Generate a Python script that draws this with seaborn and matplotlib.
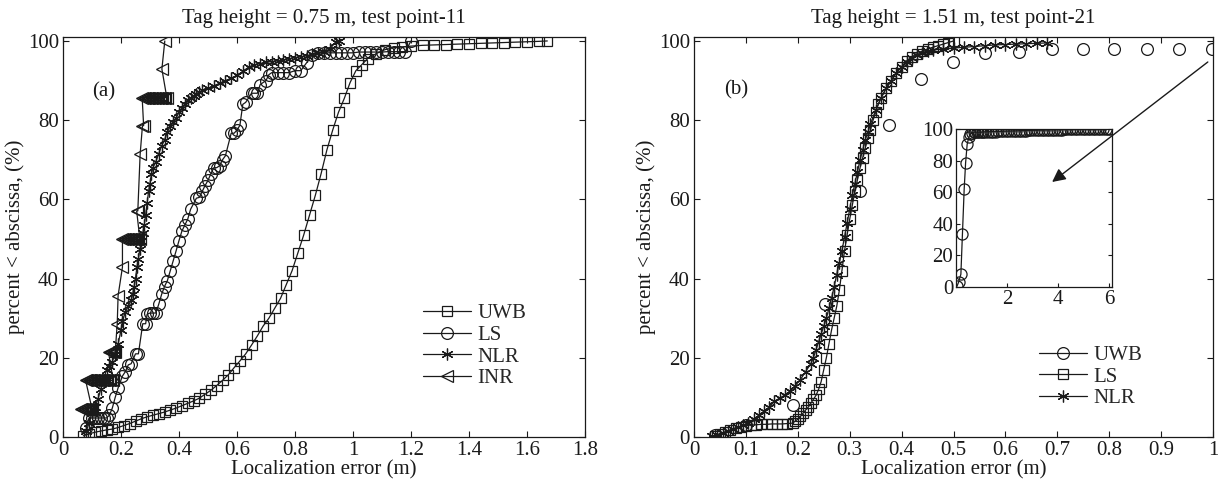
import matplotlib
matplotlib.use("Agg")
import matplotlib.pyplot as plt
import seaborn as sns
from matplotlib.lines import Line2D
from matplotlib.patches import FancyArrowPatch

# ---------------- data: panel (a) ----------------
uwb_a_x = [0.07, 0.09, 0.11, 0.13, 0.15, 0.17, 0.19, 0.21, 0.23, 0.25,
           0.27, 0.29, 0.31, 0.33, 0.35, 0.37, 0.39, 0.41, 0.43, 0.45,
           0.47, 0.49, 0.51, 0.53, 0.55, 0.57, 0.59, 0.61, 0.63, 0.65,
           0.67, 0.69, 0.71, 0.73, 0.75, 0.77, 0.79, 0.81, 0.83, 0.85,
           0.87, 0.89, 0.91, 0.93, 0.95, 0.97, 0.99, 1.01, 1.03, 1.05,
           1.08, 1.11, 1.14, 1.17, 1.20, 1.24, 1.28, 1.32, 1.36, 1.40,
           1.44, 1.48, 1.52, 1.56, 1.60, 1.64, 1.67]
uwb_a_y = [0.3, 0.8, 1.2, 1.5, 1.8, 2.0, 2.4, 2.9, 3.4, 4.0,
           4.6, 5.1, 5.5, 5.9, 6.3, 6.8, 7.3, 7.9, 8.5, 9.1,
           9.8, 10.8, 11.8, 13.0, 14.3, 15.7, 17.5, 19.2, 21.0, 23.2,
           25.5, 28.0, 30.0, 32.5, 35.0, 38.5, 42.0, 46.5, 51.0, 56.0,
           61.0, 66.5, 72.5, 77.5, 82.0, 85.5, 89.5, 92.5, 94.0, 95.5,
           96.8, 97.8, 98.3, 98.5, 98.7, 98.9, 99.0, 99.1, 99.2, 99.3,
           99.4, 99.5, 99.6, 99.7, 99.8, 99.9, 100.0]

ls_a_x = [0.08, 0.09, 0.10, 0.11, 0.12, 0.13, 0.14, 0.15, 0.16, 0.17,
          0.18, 0.19, 0.205, 0.215, 0.225, 0.235, 0.25, 0.26, 0.275, 0.285,
          0.29, 0.30, 0.31, 0.32, 0.33, 0.34, 0.35, 0.36, 0.37, 0.38,
          0.39, 0.40, 0.41, 0.42, 0.43, 0.44, 0.46, 0.47, 0.48, 0.49,
          0.50, 0.51, 0.52, 0.53, 0.54, 0.55, 0.56, 0.58, 0.59, 0.60,
          0.61, 0.62, 0.63, 0.65, 0.66, 0.67, 0.68, 0.70, 0.71, 0.72,
          0.74, 0.76, 0.78, 0.80, 0.82, 0.84, 0.86, 0.88, 0.90, 0.92,
          0.94, 0.96, 0.98, 1.00, 1.02, 1.04, 1.06, 1.08, 1.10, 1.12,
          1.14, 1.16, 1.18, 1.20]
ls_a_y = [2.3, 4.8, 4.8, 4.8, 4.8, 4.8, 4.8, 4.8, 5.5, 7.3,
          10.0, 12.4, 15.4, 16.5, 18.2, 18.5, 21.0, 21.0, 28.6, 28.6,
          31.0, 31.3, 31.3, 31.3, 33.5, 36.0, 38.0, 39.5, 42.0, 44.5,
          47.0, 49.6, 52.0, 53.5, 55.0, 57.5, 60.3, 60.5, 62.0, 63.5,
          64.8, 66.5, 68.0, 68.0, 68.5, 70.0, 71.0, 76.7, 76.7, 77.5,
          78.7, 84.0, 84.5, 86.8, 86.8, 86.8, 89.0, 90.0, 91.5, 92.0,
          92.0, 92.0, 92.0, 92.5, 92.5, 94.5, 96.5, 97.0, 97.0, 97.0,
          97.0, 97.0, 97.0, 97.0, 97.2, 97.2, 97.2, 97.2, 97.2, 97.3,
          97.3, 97.3, 97.3, 100.0]

nlr_a_x = [0.08, 0.09, 0.10, 0.11, 0.12, 0.13, 0.14, 0.15, 0.16, 0.17,
           0.18, 0.19, 0.20, 0.205, 0.215, 0.225, 0.235, 0.24, 0.245, 0.25,
           0.255, 0.26, 0.265, 0.27, 0.275, 0.28, 0.285, 0.29, 0.295, 0.30,
           0.305, 0.31, 0.32, 0.33, 0.34, 0.35, 0.36, 0.37, 0.38, 0.39,
           0.40, 0.41, 0.42, 0.43, 0.44, 0.45, 0.46, 0.47, 0.48, 0.50,
           0.52, 0.54, 0.56, 0.58, 0.60, 0.62, 0.64, 0.66, 0.68, 0.70,
           0.72, 0.74, 0.76, 0.78, 0.80, 0.82, 0.84, 0.86, 0.88, 0.90,
           0.92, 0.94, 0.95]
nlr_a_y = [1.5, 3.5, 6.0, 7.5, 9.5, 12.0, 14.5, 17.0, 18.0, 19.0,
           21.0, 23.5, 27.0, 29.4, 31.5, 33.0, 34.5, 36.0, 38.0, 40.0,
           43.0, 45.0, 47.5, 49.5, 51.5, 53.5, 56.0, 59.0, 62.0, 64.0,
           66.5, 68.0, 69.5, 71.5, 73.5, 75.0, 77.0, 78.5, 79.5, 80.5,
           82.0, 83.0, 84.0, 85.0, 85.5, 86.0, 86.5, 87.0, 87.5, 88.0,
           88.7, 89.3, 90.0, 90.6, 91.3, 92.3, 93.4, 94.0, 94.3, 94.6,
           94.8, 95.0, 95.2, 95.5, 95.8, 96.0, 96.3, 96.6, 96.9, 97.2,
           98.0, 99.7, 100.0]

inr_a_x = [0.062, 0.067, 0.072, 0.077, 0.082, 0.087, 0.092, 0.097, 0.100,
           0.078, 0.083, 0.088, 0.093, 0.098, 0.103, 0.108, 0.113, 0.118,
           0.123, 0.128, 0.133, 0.138, 0.143, 0.148, 0.153, 0.158, 0.163,
           0.168, 0.173,
           0.157, 0.162, 0.167, 0.172, 0.177, 0.180,
           0.187, 0.190, 0.205,
           0.205, 0.210, 0.215, 0.220, 0.225, 0.230, 0.235, 0.240, 0.245,
           0.250, 0.255, 0.260, 0.265,
           0.254, 0.258,
           0.266, 0.274, 0.278,
           0.273, 0.278, 0.283, 0.288, 0.293, 0.298, 0.303, 0.308, 0.313,
           0.318, 0.323, 0.328, 0.333, 0.338, 0.343, 0.348, 0.353, 0.358,
           0.341, 0.351]
inr_a_y = [7.1, 7.1, 7.1, 7.1, 7.1, 7.1, 7.1, 7.1, 7.1,
           14.3, 14.3, 14.3, 14.3, 14.3, 14.3, 14.3, 14.3, 14.3,
           14.3, 14.3, 14.3, 14.3, 14.3, 14.3, 14.3, 14.3, 14.3,
           14.3, 14.3,
           21.4, 21.4, 21.4, 21.4, 21.4, 21.4,
           28.6, 35.7, 42.9,
           50.0, 50.0, 50.0, 50.0, 50.0, 50.0, 50.0, 50.0, 50.0,
           50.0, 50.0, 50.0, 50.0,
           57.1, 57.1,
           71.4, 78.6, 78.6,
           85.7, 85.7, 85.7, 85.7, 85.7, 85.7, 85.7, 85.7, 85.7,
           85.7, 85.7, 85.7, 85.7, 85.7, 85.7, 85.7, 85.7, 85.7,
           92.9, 100.0]

# ---------------- data: panel (b) ----------------
uwb_b_x = [0.04, 0.10, 0.191, 0.252, 0.32, 0.376, 0.437, 0.499, 0.561, 0.626,
           0.690, 0.750, 0.809, 0.873, 0.934, 0.998,
           1.05, 1.15, 1.25, 1.35, 1.45, 1.55, 1.65, 1.75, 1.85, 1.95,
           2.05, 2.15, 2.25, 2.35, 2.45, 2.55, 2.65, 2.75, 2.85, 2.95,
           3.05, 3.15, 3.25, 3.35, 3.45, 3.55, 3.65, 3.75, 3.85, 3.95,
           4.05, 4.15, 4.25, 4.35, 4.45, 4.55, 4.65, 4.75, 4.85, 4.95,
           5.05, 5.15, 5.25, 5.35, 5.45, 5.55, 5.65, 5.75, 5.85, 5.95, 6.02]
uwb_b_y = [0.5, 3.0, 8.1, 33.7, 62.0, 78.7, 90.4, 94.7, 97.0, 97.2,
           98.0, 98.0, 98.0, 98.0, 98.0, 98.0,
           98.2, 98.2, 98.3, 98.3, 98.4, 98.4, 98.5, 98.5, 98.6, 98.6,
           98.7, 98.7, 98.8, 98.8, 98.9, 98.9, 99.0, 99.0, 99.1, 99.1,
           99.2, 99.2, 99.3, 99.3, 99.4, 99.4, 99.5, 99.5, 99.5, 99.6,
           99.6, 99.6, 99.7, 99.7, 99.7, 99.8, 99.8, 99.8, 99.8, 99.9,
           99.9, 99.9, 99.9, 99.9, 100.0, 100.0, 100.0, 100.0, 100.0, 100.0, 100.0]

ls_b_x = [0.04, 0.05, 0.06, 0.07, 0.08, 0.09, 0.10, 0.11, 0.12, 0.13,
          0.14, 0.15, 0.16, 0.17, 0.18, 0.19, 0.195, 0.20, 0.205, 0.21,
          0.215, 0.22, 0.225, 0.23, 0.235, 0.24, 0.245, 0.25, 0.255, 0.26,
          0.265, 0.27, 0.275, 0.28, 0.285, 0.29, 0.295, 0.30, 0.305, 0.31,
          0.315, 0.32, 0.325, 0.33, 0.335, 0.34, 0.345, 0.35, 0.355, 0.36,
          0.37, 0.38, 0.39, 0.40, 0.41, 0.42, 0.43, 0.44, 0.45, 0.46,
          0.47, 0.48, 0.49, 0.50]
ls_b_y = [0.3, 0.8, 1.3, 1.8, 2.3, 2.6, 2.9, 3.0, 3.1, 3.2,
          3.2, 3.3, 3.3, 3.3, 3.4, 3.5, 4.0, 4.5, 5.2, 6.0,
          6.8, 7.5, 8.5, 9.5, 10.5, 12.0, 14.0, 17.0, 20.0, 23.5,
          27.0, 30.0, 33.0, 37.0, 42.0, 47.0, 51.0, 55.0, 58.5, 62.0,
          65.0, 68.0, 70.5, 73.0, 75.5, 77.5, 80.0, 82.0, 84.0, 85.5,
          88.0, 90.0, 92.0, 93.5, 95.0, 96.0, 96.8, 97.4, 98.0, 98.4,
          98.8, 99.2, 99.6, 100.0]

nlr_b_x = [0.035, 0.045, 0.055, 0.065, 0.075, 0.085, 0.095, 0.105, 0.115, 0.125,
           0.135, 0.145, 0.155, 0.165, 0.175, 0.185, 0.195, 0.205, 0.215, 0.225,
           0.23, 0.235, 0.24, 0.245, 0.25, 0.255, 0.26, 0.265, 0.27, 0.275,
           0.28, 0.285, 0.29, 0.295, 0.30, 0.305, 0.31, 0.315, 0.32, 0.325,
           0.33, 0.335, 0.34, 0.35, 0.36, 0.37, 0.38, 0.39, 0.40, 0.41,
           0.42, 0.43, 0.44, 0.45, 0.46, 0.48, 0.50, 0.52, 0.54, 0.56,
           0.58, 0.60, 0.62, 0.64, 0.66, 0.68]
nlr_b_y = [0.2, 0.6, 1.0, 1.5, 2.0, 2.5, 3.0, 3.6, 4.5, 5.5,
           6.5, 7.5, 9.0, 9.8, 10.6, 11.6, 13.0, 14.5, 16.5, 18.5,
           20.0, 22.0, 24.0, 26.0, 28.0, 30.0, 32.5, 35.0, 38.0, 41.0,
           44.0, 47.0, 50.5, 54.0, 57.5, 61.0, 64.0, 67.0, 70.0, 72.5,
           75.0, 77.0, 79.0, 82.5, 85.5, 88.0, 90.0, 92.0, 93.5, 94.8,
           95.8, 96.5, 97.0, 97.4, 97.7, 98.0, 98.2, 98.4, 98.6, 98.8,
           99.0, 99.1, 99.2, 99.3, 99.4, 99.5]

# ---------------- text / ticks ----------------
title_a = "Tag height = 0.75 m, test point-11"
title_b = "Tag height = 1.51 m, test point-21"
xlabel = "Localization error (m)"
ylabel = "percent < abscissa, (%)"
legend_a = ["UWB", "LS", "NLR", "INR"]
legend_b = ["UWB", "LS", "NLR"]
xticks_a = [0, 0.2, 0.4, 0.6, 0.8, 1.0, 1.2, 1.4, 1.6, 1.8]
xticklabels_a = ["0", "0.2", "0.4", "0.6", "0.8", "1", "1.2", "1.4", "1.6", "1.8"]
xticks_b = [0, 0.1, 0.2, 0.3, 0.4, 0.5, 0.6, 0.7, 0.8, 0.9, 1.0]
xticklabels_b = ["0", "0.1", "0.2", "0.3", "0.4", "0.5", "0.6", "0.7", "0.8", "0.9", "1"]
yticks = [0, 20, 40, 60, 80, 100]
inset_xticks = [2, 4, 6]

# ---------------- style ----------------
sns.set_theme(style="ticks")
plt.rcParams["font.family"] = ["Liberation Serif", "DejaVu Serif"]
plt.rcParams["axes.edgecolor"] = "#1a1a1a"
plt.rcParams["axes.linewidth"] = 0.9
INK = "#1a1a1a"
FS = 15
ASTER = (6, 2, 0)
LW = 0.9

fig = plt.figure(figsize=(12.18, 4.83), dpi=100)
W, H = 1218.0, 483.0
ax_a = fig.add_axes([63 / W, 46 / H, 522 / W, 400 / H])
ax_b = fig.add_axes([694 / W, 46 / H, 519 / W, 400 / H])
ax_in = fig.add_axes([956 / W, (H - 287) / H, 156 / W, 158 / H])


def draw(ax, x, y, marker, ms, ls="-"):
    sns.lineplot(x=x, y=y, ax=ax, sort=False, estimator=None, color=INK,
                 linewidth=LW, linestyle=ls, marker=marker, markersize=ms,
                 markerfacecolor="none", markeredgecolor=INK,
                 markeredgewidth=LW)


def handle(marker, ms):
    return Line2D([], [], color=INK, linewidth=LW, marker=marker,
                  markersize=ms, markerfacecolor="none",
                  markeredgecolor=INK, markeredgewidth=LW)


def style_axes(ax, xt, xtl):
    ax.set_ylim(0, 101)
    ax.set_xticks(xt)
    ax.set_xticklabels(xtl)
    ax.set_yticks(yticks)
    ax.tick_params(direction="in", length=4, width=0.8, top=True, right=True,
                   labelsize=FS, colors=INK, pad=3)
    ax.set_xlabel(xlabel, fontsize=FS, color=INK, labelpad=0)
    ax.set_ylabel(ylabel, fontsize=FS, color=INK, labelpad=2)
    for s in ax.spines.values():
        s.set_linewidth(0.9)


# panel (a)
draw(ax_a, uwb_a_x, uwb_a_y, "s", 7.5)
draw(ax_a, ls_a_x, ls_a_y, "o", 8.5)
draw(ax_a, nlr_a_x, nlr_a_y, ASTER, 8.5)
draw(ax_a, inr_a_x, inr_a_y, "<", 9)
ax_a.set_xlim(0, 1.8)
style_axes(ax_a, xticks_a, xticklabels_a)
ax_a.set_title(title_a, fontsize=FS, color=INK, pad=10)
ax_a.text(0.0785, 0.8625, "(a)", transform=ax_a.transAxes, fontsize=FS,
          ha="center", va="center", color=INK)
ax_a.legend(handles=[handle("s", 7.5), handle("o", 8.5), handle(ASTER, 8.5), handle("<", 9)],
            labels=legend_a, loc="center left", bbox_to_anchor=(0.69, 0.2275),
            frameon=False, fontsize=FS, handlelength=2.3, handletextpad=0.3,
            labelspacing=0.1, borderpad=0, borderaxespad=0)

# panel (b)
draw(ax_b, uwb_b_x, uwb_b_y, "o", 8.5, ls="none")
draw(ax_b, ls_b_x, ls_b_y, "s", 7.5)
draw(ax_b, nlr_b_x, nlr_b_y, ASTER, 8.5)
ax_b.set_xlim(0, 1.0)
style_axes(ax_b, xticks_b, xticklabels_b)
ax_b.set_title(title_b, fontsize=FS, color=INK, pad=10)
ax_b.text(0.081, 0.8675, "(b)", transform=ax_b.transAxes, fontsize=FS,
          ha="center", va="center", color=INK)
ax_b.legend(handles=[handle("o", 8.5), handle("s", 7.5), handle(ASTER, 8.5)],
            labels=legend_b, loc="center left", bbox_to_anchor=(0.665, 0.15),
            frameon=False, fontsize=FS, handlelength=2.3, handletextpad=0.3,
            labelspacing=0.1, borderpad=0, borderaxespad=0)

# inset
draw(ax_in, uwb_b_x, uwb_b_y, "o", 8)
ax_in.set_xlim(0, 6.1)
ax_in.set_ylim(0, 100)
ax_in.set_xticks(inset_xticks)
ax_in.set_yticks(yticks)
ax_in.tick_params(direction="in", length=3, width=0.8, top=False, right=True,
                  labelsize=FS, colors=INK, pad=2)
ax_in.set_xlabel("")
ax_in.set_ylabel("")
for s in ax_in.spines.values():
    s.set_linewidth(0.9)

# arrow from the tail of the UWB curve into the inset (drawn above all axes)
arrow = FancyArrowPatch((0.990, 0.9375), (0.690, 0.6375),
                        transform=ax_b.transAxes, arrowstyle="-|>",
                        mutation_scale=20, color=INK, lw=1.0,
                        shrinkA=0, shrinkB=0, zorder=20)
fig.add_artist(arrow)

fig.savefig("out.png", dpi=100)
